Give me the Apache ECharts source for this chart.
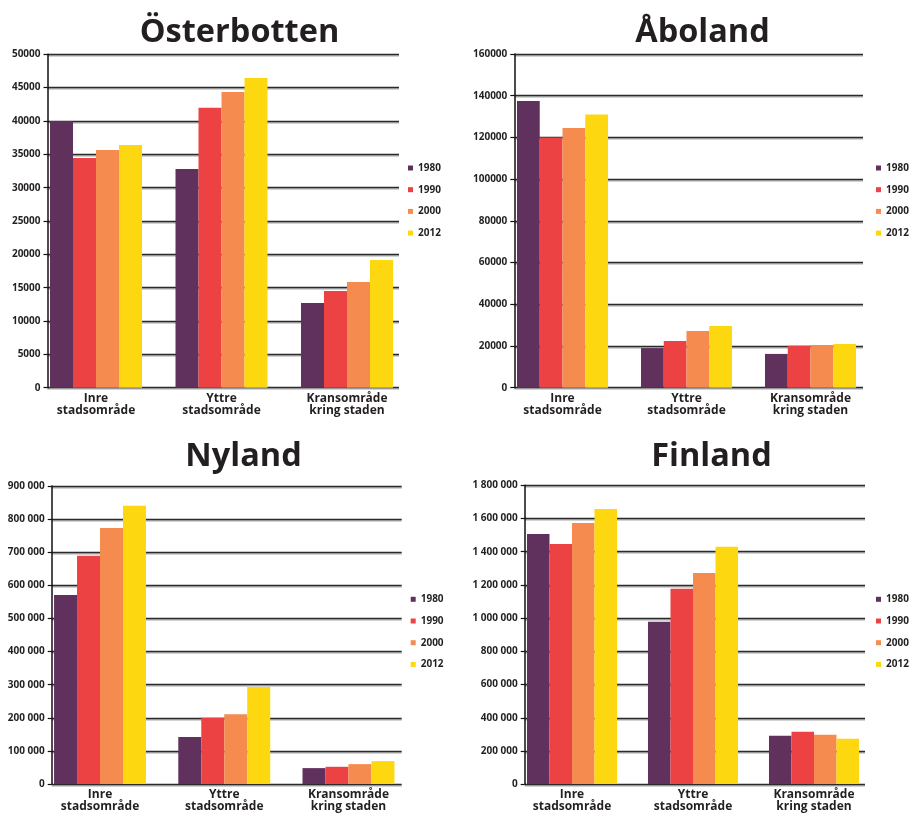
<!DOCTYPE html>
<html>
<head>
<meta charset="utf-8">
<script src="https://cdn.jsdelivr.net/npm/echarts@6/dist/echarts.min.js"></script>
<style>
  html, body { margin: 0; padding: 0; background: #ffffff; }
  #chart { width: 909px; height: 813px; }
</style>
</head>
<body>
<div id="chart"></div>
<script>
// Population by area type, four regions, census years 1980–2012
const years = ['1980', '1990', '2000', '2012'];
const areas = ['Inre\nstadsområde', 'Yttre\nstadsområde', 'Kransområde\nkring staden'];

// Rows follow `years`, columns follow `areas`
const osterbottenValues = [
  [40000, 32800, 12700],
  [34450, 42000, 14500],
  [35650, 44350, 15850],
  [36400, 46450, 19150]
];
const abolandValues = [
  [137500, 19000, 16200],
  [120000, 22400, 20100],
  [124500, 27200, 20500],
  [131000, 29600, 21000]
];
const nylandValues = [
  [571000, 142000, 48000],
  [689000, 200000, 52000],
  [773000, 211000, 60000],
  [840000, 293000, 69000]
];
const finlandValues = [
  [1507000, 977000, 291000],
  [1447000, 1176000, 315000],
  [1573000, 1272000, 297000],
  [1657000, 1429000, 273000]
];

// Value-axis scales
const osterbottenAxis = { max: 50000, interval: 5000 };
const abolandAxis = { max: 160000, interval: 20000 };
const nylandAxis = { max: 900000, interval: 100000 };
const finlandAxis = { max: 1800000, interval: 200000 };

const yearColors = ['#61315e', '#ec4244', '#f58b4e', '#fdd70f'];
const ink = '#231f20';
const font = '"Open Sans", "Noto Sans", sans-serif';

const spaced = v => String(v).replace(/\B(?=(\d{3})+(?!\d))/g, ' ');
const plain = v => String(v);

const panels = [
  {
    name: 'Österbotten', values: osterbottenValues, scale: osterbottenAxis, fmt: plain,
    frame: { left: 47.5, top: 54.3, width: 351.5, height: 333.4 },
    bars: { left: 33.25, width: 376.5 }, gap: '26.7%',
    titleX: 234.5, titleY: 11, legend: { left: 408, top: 162 }
  },
  {
    name: 'Åboland', values: abolandValues, scale: abolandAxis, fmt: plain,
    frame: { left: 514.3, top: 54.0, width: 348.7, height: 333.7 },
    bars: { left: 500.5, width: 372 }, gap: '26.6%',
    titleX: 697.5, titleY: 11, legend: { left: 876, top: 162 }
  },
  {
    name: 'Nyland', values: nylandValues, scale: nylandAxis, fmt: spaced,
    frame: { left: 51.7, top: 486.0, width: 350, height: 298 },
    bars: { left: 37.9, width: 372.7 }, gap: '26%',
    titleX: 238.5, titleY: 435, legend: { left: 410.7, top: 593.3 }
  },
  {
    name: 'Finland', values: finlandValues, scale: finlandAxis, fmt: spaced,
    frame: { left: 524.7, top: 485.3, width: 340.3, height: 299 },
    bars: { left: 511.5, width: 363 }, gap: '25.6%',
    titleX: 706.5, titleY: 435, legend: { left: 876, top: 593.3 }
  }
];

const option = {
  backgroundColor: '#ffffff',
  animation: false,
  color: yearColors,
  title: [], legend: [], grid: [], xAxis: [], yAxis: [], series: []
};

panels.forEach((p, i) => {
  const frameIdx = i * 2;
  const barIdx = i * 2 + 1;

  option.title.push({
    text: p.name,
    left: p.titleX,
    top: p.titleY,
    textAlign: 'center',
    textStyle: { fontFamily: font, fontWeight: 'bold', fontSize: 32.5, color: ink }
  });

  // Frame grid: value axis, ticks, horizontal rules
  option.grid.push({ left: p.frame.left, top: p.frame.top, width: p.frame.width, height: p.frame.height, containLabel: false });
  // Bar grid: same vertical extent, category bands slightly wider than the frame
  option.grid.push({ left: p.bars.left, top: p.frame.top, width: p.bars.width, height: p.frame.height, containLabel: false });

  option.xAxis.push({ gridIndex: frameIdx, type: 'category', data: areas, show: false });
  option.xAxis.push({
    gridIndex: barIdx, type: 'category', data: areas,
    axisLine: { show: false }, axisTick: { show: false },
    axisLabel: {
      margin: 5, fontFamily: font, fontWeight: 'bold', fontSize: 12,
      lineHeight: 12, color: ink, interval: 0
    }
  });

  option.yAxis.push({
    gridIndex: frameIdx, type: 'value', min: 0, max: p.scale.max, interval: p.scale.interval,
    axisLine: { show: true, lineStyle: { color: '#111', width: 1.5 } },
    axisTick: { show: true, length: 4, lineStyle: { color: '#111', width: 1.2 } },
    axisLabel: {
      margin: 7, fontFamily: font, fontWeight: 'bold', fontSize: 10, color: ink,
      formatter: p.fmt
    },
    splitLine: {
      show: true,
      lineStyle: {
        color: '#2b2b2b', width: 1.4,
        shadowColor: 'rgba(0,0,0,0.35)', shadowOffsetY: 1.4, shadowBlur: 0.5
      }
    }
  });
  option.yAxis.push({
    gridIndex: barIdx, type: 'value', min: 0, max: p.scale.max, interval: p.scale.interval,
    show: false, splitLine: { show: false }
  });

  option.legend.push({
    orient: 'vertical',
    left: p.legend.left, top: p.legend.top,
    padding: 0, itemGap: 9.7,
    itemWidth: 5, itemHeight: 5, icon: 'rect',
    selectedMode: false,
    data: years,
    textStyle: { fontFamily: font, fontWeight: 'bold', fontSize: 10, lineHeight: 12, color: ink, padding: [0, 0, 0, 0] }
  });

  years.forEach((y, k) => {
    option.series.push({
      name: y,
      type: 'bar',
      xAxisIndex: barIdx, yAxisIndex: barIdx,
      data: p.values[k],
      barGap: '0%',
      barCategoryGap: p.gap,
      itemStyle: { color: yearColors[k] },
      z: 3
    });
  });
});

const chart = echarts.init(document.getElementById('chart'), null, { renderer: 'canvas' });
chart.setOption(option);
</script>
</body>
</html>
